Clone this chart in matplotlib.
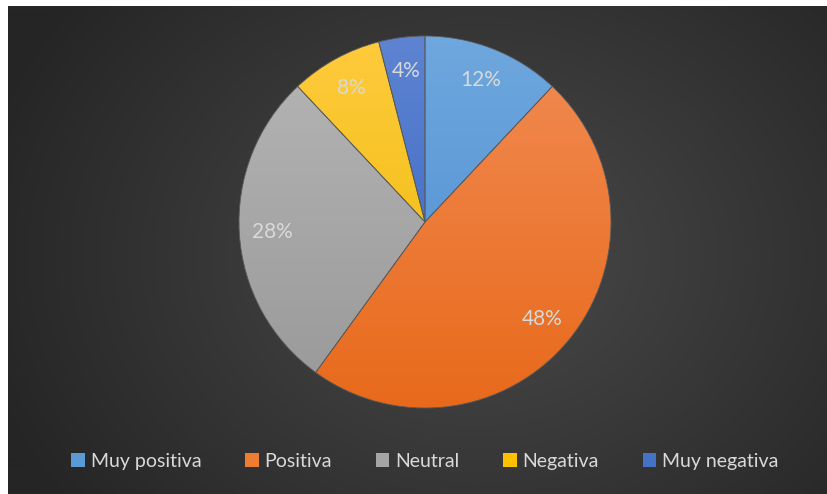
import numpy as np
import matplotlib
matplotlib.use("Agg")
import matplotlib.pyplot as plt
from matplotlib.patches import Patch

labels = ["Muy positiva", "Positiva", "Neutral", "Negativa", "Muy negativa"]
values = [12, 48, 28, 8, 4]
top_colors = ["#6fa8de", "#f28c55", "#b6b6b6", "#ffcb3e", "#5e84d2"]
bottom_colors = ["#4a8ad0", "#e8691a", "#989898", "#ebb800", "#3262c2"]
legend_colors = ["#5b9bd5", "#ed7d31", "#a5a5a5", "#ffc000", "#4472c4"]

plt.rcParams['font.family'] = ['Lato', 'DejaVu Sans']

fig = plt.figure(figsize=(8.28, 4.94), dpi=100)
fig.patch.set_facecolor("white")

# dark panel with radial gradient
bg = fig.add_axes([8/828, 0, 820/828, 488/494])
bg.set_axis_off()
yy, xx = np.mgrid[0:488, 0:820]
cx, cy = 470, 250
d = np.sqrt(((xx - cx) / 520.0) ** 2 + ((yy - cy) / 420.0) ** 2)
d = np.clip(d, 0, 1)
c0 = np.array([0x4a, 0x4a, 0x4a]) / 255
c1 = np.array([0x25, 0x25, 0x25]) / 255
img = c0[None, None, :] * (1 - d[..., None]) + c1[None, None, :] * d[..., None]
bg.imshow(img, aspect="auto", interpolation="bilinear")

# pie axes
ax = fig.add_axes([(425 - 190) / 828, 1 - (222 + 190) / 494, 380 / 828, 380 / 494])
ax.set_facecolor("none")
wedges, texts, autotexts = ax.pie(values, startangle=90, counterclock=False,
                                  radius=186 / 190, autopct="%1.0f%%", pctdistance=0.82,
                                  wedgeprops=dict(linewidth=0.6, edgecolor="#5a5a5a"),
                                  textprops=dict(color="#d9d9d9", fontsize=15))
ax.set_xlim(-1, 1)
ax.set_ylim(-1, 1)
ax.set_aspect("equal")

grad = np.linspace(0, 1, 256)[:, None]
for w, tc, bc in zip(wedges, top_colors, bottom_colors):
    t = np.array(matplotlib.colors.to_rgb(tc))
    b = np.array(matplotlib.colors.to_rgb(bc))
    g = t[None, None, :] * (1 - grad[..., None]) + b[None, None, :] * grad[..., None]
    g = np.repeat(g, 2, axis=1)
    w.set_facecolor("none")
    im = ax.imshow(g, extent=[-1, 1, -1, 1], aspect="auto", zorder=0.5)
    im.set_clip_path(w)
ax.set_xlim(-1, 1)
ax.set_ylim(-1, 1)
ax.set_axis_off()
for t in autotexts:
    t.set_zorder(5)

handles = [Patch(facecolor=c, edgecolor="none") for c in legend_colors]
fig.legend(handles, labels, loc="center", bbox_to_anchor=(425 / 828, 1 - 461 / 494), ncol=5,
           frameon=False, fontsize=14, labelcolor="#d9d9d9",
           handlelength=0.7, handleheight=0.7, handletextpad=0.3, columnspacing=2.25)

fig.savefig("out.png", dpi=100)
